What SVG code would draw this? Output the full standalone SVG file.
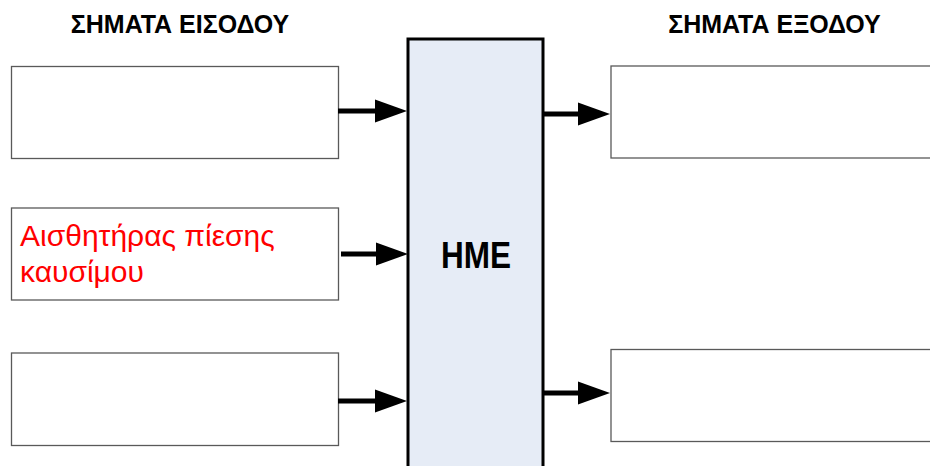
<svg xmlns="http://www.w3.org/2000/svg" width="930" height="466" viewBox="0 0 930 466">
<style>
.io{fill:#ffffff;stroke:#595959;stroke-width:1.3}
.hdr{font-family:"Liberation Sans",Arial,sans-serif;font-weight:bold;font-size:25px;fill:#000;text-anchor:middle}
.ecu{fill:#e6ecf6;stroke:#000;stroke-width:3}
.ecut{font-family:"Liberation Sans",Arial,sans-serif;font-weight:bold;font-size:36px;fill:#000;text-anchor:middle}
.lbl{font-family:"Liberation Sans",Arial,sans-serif;font-size:30px;fill:#ff0000}
.conn{stroke:#000;stroke-width:5;fill:none;marker-end:url(#ah)}
</style>
<defs>
<marker id="ah" markerUnits="userSpaceOnUse" markerWidth="33" markerHeight="24" refX="0" refY="12" orient="auto" overflow="visible">
<path d="M0,0.5 L32,12 L0,23.5 Z" fill="#000"/>
</marker>
</defs>
<rect width="930" height="466" fill="#ffffff"/>
<text class="hdr" x="180" y="33">ΣΗΜΑΤΑ ΕΙΣΟΔΟΥ</text>
<text class="hdr" x="774.5" y="33">ΣΗΜΑΤΑ ΕΞΟΔΟΥ</text>
<g id="in1"><rect class="io" x="11.5" y="66.5" width="327" height="92"/></g>
<g id="in2"><rect class="io" x="11.5" y="208" width="327" height="92"/>
<text class="lbl" x="20" y="246">Αισθητήρας πίεσης</text>
<text class="lbl" x="20" y="282">καυσίμου</text></g>
<g id="in3"><rect class="io" x="11.5" y="353" width="327" height="92.5"/></g>
<g id="ecu"><rect class="ecu" x="408" y="39" width="135" height="440"/>
<text class="ecut" x="476" y="268" textLength="70" lengthAdjust="spacingAndGlyphs">HME</text></g>
<g id="out1"><rect class="io" x="611" y="66" width="330" height="92"/></g>
<g id="out2"><rect class="io" x="611" y="349.5" width="330" height="92"/></g>
<g id="connectors">
<line class="conn" x1="338" y1="111" x2="375" y2="111"/>
<line class="conn" x1="341" y1="254" x2="376" y2="254"/>
<line class="conn" x1="338" y1="401" x2="375" y2="401"/>
<line class="conn" x1="544" y1="114" x2="578" y2="114"/>
<line class="conn" x1="544" y1="393" x2="578" y2="393"/>
</g>
</svg>
